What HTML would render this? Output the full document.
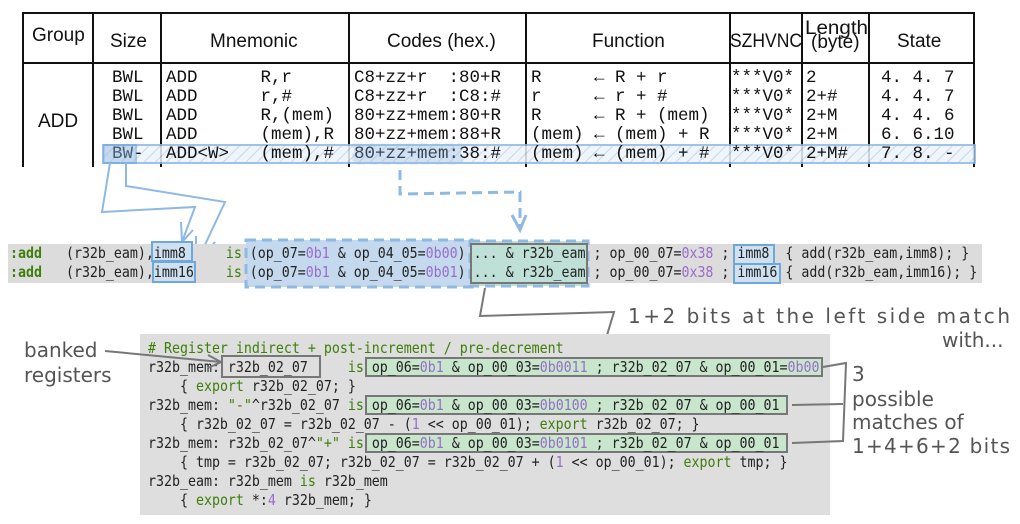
<!DOCTYPE html>
<html><head><meta charset="utf-8"><style>
html,body{margin:0;padding:0;background:#fff;}
svg{display:block;}
.h{font-family:"Liberation Sans",sans-serif;font-size:19px;fill:#111;}
.t{font-family:"Liberation Mono",monospace;font-size:17.5px;fill:#111;}
.c{font-family:"DejaVu Sans Mono",monospace;font-size:15px;fill:#222;}
.k{fill:#3d7f0a;}
.n{fill:#9a6cc9;}
.hw{font-family:"DejaVu Sans","Liberation Sans",sans-serif;font-size:20px;fill:#555;}
</style></head><body>
<svg width="1020" height="524" viewBox="0 0 1020 524" xmlns="http://www.w3.org/2000/svg">
<defs>
<pattern id="hat" width="8" height="8" patternUnits="userSpaceOnUse" patternTransform="rotate(45)">
<rect width="8" height="8" fill="#eef4fb"/><line x1="0" y1="0" x2="0" y2="8" stroke="#b8d2ec" stroke-width="2"/>
</pattern>
</defs>
<!-- table -->
<g stroke="#111" stroke-width="2" fill="none">
<line x1="22" y1="13" x2="975" y2="13"/>
<line x1="22" y1="63" x2="975" y2="63"/>
<line x1="23" y1="13" x2="23" y2="167"/>
<line x1="93" y1="13" x2="93" y2="167"/>
<line x1="161" y1="13" x2="161" y2="167"/>
<line x1="349" y1="13" x2="349" y2="167"/>
<line x1="526" y1="13" x2="526" y2="167"/>
<line x1="730" y1="13" x2="730" y2="167"/>
<line x1="802" y1="13" x2="802" y2="167"/>
<line x1="869" y1="13" x2="869" y2="167"/>
<line x1="974" y1="13" x2="974" y2="167"/>
</g>
<rect x="103" y="145" width="872" height="18" fill="url(#hat)" stroke="#8fb9e3" stroke-width="2" opacity="0.85"/>
<text class="h" x="32" y="41">Group</text>
<text class="h" x="110" y="47">Size</text>
<text class="h" x="210" y="47">Mnemonic</text>
<text class="h" x="387" y="47">Codes (hex.)</text>
<text class="h" x="592" y="47">Function</text>
<text class="h" x="730" y="47" textLength="72" lengthAdjust="spacingAndGlyphs">SZHVNC</text>
<text class="h" x="805" y="34" font-size="16" textLength="63" lengthAdjust="spacingAndGlyphs">Length</text>
<text class="h" x="811" y="48" font-size="16">(byte)</text>
<text class="h" x="897" y="47">State</text>
<text class="h" x="38" y="127">ADD</text>
<g class="t">
<text x="112" y="82">BWL</text><text x="112" y="101">BWL</text><text x="112" y="120">BWL</text><text x="112" y="139">BWL</text><text x="112" y="158">BW-</text>
<text x="166" y="82" xml:space="preserve">ADD      R,r</text>
<text x="166" y="101" xml:space="preserve">ADD      r,#</text>
<text x="166" y="120" xml:space="preserve">ADD      R,(mem)</text>
<text x="166" y="139" xml:space="preserve">ADD      (mem),R</text>
<text x="166" y="158" xml:space="preserve">ADD&lt;W&gt;   (mem),#</text>
<text x="354" y="82" xml:space="preserve">C8+zz+r  :80+R</text>
<text x="354" y="101" xml:space="preserve">C8+zz+r  :C8:#</text>
<text x="354" y="120" xml:space="preserve">80+zz+mem:80+R</text>
<text x="354" y="139" xml:space="preserve">80+zz+mem:88+R</text>
<text x="354" y="158" xml:space="preserve">80+zz+mem:38:#</text>
<text x="531" y="82" xml:space="preserve">R     ← R + r</text>
<text x="531" y="101" xml:space="preserve">r     ← r + #</text>
<text x="531" y="120" xml:space="preserve">R     ← R + (mem)</text>
<text x="531" y="139" xml:space="preserve">(mem) ← (mem) + R</text>
<text x="531" y="158" xml:space="preserve">(mem) ← (mem) + #</text>
<text x="731" y="82">***V0*</text><text x="731" y="101">***V0*</text><text x="731" y="120">***V0*</text><text x="731" y="139">***V0*</text><text x="731" y="158">***V0*</text>
<text x="806" y="82">2</text><text x="806" y="101">2+#</text><text x="806" y="120">2+M</text><text x="806" y="139">2+M</text><text x="806" y="158">2+M#</text>
<text x="881" y="82" xml:space="preserve">4. 4. 7</text>
<text x="881" y="101" xml:space="preserve">4. 4. 7</text>
<text x="881" y="120" xml:space="preserve">4. 4. 6</text>
<text x="881" y="139" xml:space="preserve">6. 6.10</text>
<text x="881" y="158" xml:space="preserve">7. 8. -</text>
</g>
<rect x="104" y="145" width="32" height="18" fill="#8fb9e3" opacity="0.45" stroke="#5e9bd6" stroke-width="2"/>
<rect x="354" y="145" width="107" height="18" fill="#8fb9e3" opacity="0.3" stroke="#8fb9e3" stroke-width="3" stroke-dasharray="8,5"/>
<!-- blue arrows -->
<g stroke="#8fb9e3" stroke-width="2" fill="none">
<polyline points="110,163 102,212 195,207 182,242"/>
<polyline points="181,222 182,242 193,230"/>
<polyline points="126,163 126,186 225,202 196,264"/>
<polyline points="196,236 196,264 215,242"/>
<polyline points="400,170 400,194 520,192 520,228" stroke-dasharray="10,6" stroke-width="3"/>
<polyline points="512,215 520,230 526,215" stroke-width="3"/>
</g>
<!-- middle band -->
<rect x="8" y="244" width="974" height="39" fill="#dcdcdc"/>
<rect x="246" y="240" width="226" height="47" fill="#c5d9ee" stroke="#8fb9e3" stroke-width="3" stroke-dasharray="10,6"/>
<rect x="470" y="241" width="118" height="45" fill="#bfe0d6" stroke="#8fb9e3" stroke-width="3" stroke-dasharray="10,6"/>
<rect x="471" y="244" width="116" height="39" fill="none" stroke="#777" stroke-width="2"/>
<rect x="152" y="242" width="40" height="19" fill="#cfe0f0" stroke="#6fa6dc" stroke-width="2"/>
<rect x="153" y="262" width="42" height="20" fill="#cfe0f0" stroke="#6fa6dc" stroke-width="2"/>
<rect x="734" y="245" width="40" height="19" fill="#cfe0f0" stroke="#6fa6dc" stroke-width="2"/>
<rect x="734" y="264" width="46" height="19" fill="#cfe0f0" stroke="#6fa6dc" stroke-width="2"/>
<g class="c" transform="translate(10,0) scale(0.886,1)">
<text x="0" y="258" xml:space="preserve"><tspan class="k" font-weight="bold">:add</tspan>   (r32b_eam),imm8     <tspan class="k">is</tspan> (op_07=<tspan class="n">0b1</tspan> &amp; op_04_05=<tspan class="n">0b00</tspan>) ... &amp; r32b_eam ; op_00_07=<tspan class="n">0x38</tspan> ; imm8  { add(r32b_eam,imm8); }</text>
<text x="0" y="277" xml:space="preserve"><tspan class="k" font-weight="bold">:add</tspan>   (r32b_eam),imm16    <tspan class="k">is</tspan> (op_07=<tspan class="n">0b1</tspan> &amp; op_04_05=<tspan class="n">0b01</tspan>) ... &amp; r32b_eam ; op_00_07=<tspan class="n">0x38</tspan> ; imm16 { add(r32b_eam,imm16); }</text>
</g>
<!-- gray connector -->
<g stroke="#777" stroke-width="2" fill="none">
<polyline points="485,288 480,316 614,312 601,355"/>
<polyline points="594,340 601,356 611,340"/>
</g>
<text class="hw" x="628" y="323" textLength="382">1+2 bits at the left side match</text>
<text class="hw" x="942" y="347">with...</text>
<!-- bottom box -->
<rect x="140" y="334" width="690" height="181" fill="#dedede"/>
<rect x="366" y="358" width="456" height="18" fill="#c8e6cc" stroke="#777" stroke-width="2"/>
<rect x="366" y="396" width="421" height="18" fill="#c8e6cc" stroke="#777" stroke-width="2"/>
<rect x="366" y="434" width="421" height="18" fill="#c8e6cc" stroke="#777" stroke-width="2"/>
<rect x="222" y="356" width="98" height="21" fill="none" stroke="#777" stroke-width="2"/>
<g class="c" transform="translate(148,0) scale(0.886,1)">
<text x="0" y="353" class="c k"># Register indirect + post-increment / pre-decrement</text>
<text x="0" y="372" xml:space="preserve">r32b_mem: r32b_02_07     <tspan class="k">is</tspan> op_06=<tspan class="n">0b1</tspan> &amp; op_00_03=<tspan class="n">0b0011</tspan> ; r32b_02_07 &amp; op_00_01=<tspan class="n">0b00</tspan></text>
<text x="0" y="391" xml:space="preserve">    { <tspan class="k">export</tspan> r32b_02_07; }</text>
<text x="0" y="410" xml:space="preserve">r32b_mem: <tspan class="k">"-"</tspan>^r32b_02_07 <tspan class="k">is</tspan> op_06=<tspan class="n">0b1</tspan> &amp; op_00_03=<tspan class="n">0b0100</tspan> ; r32b_02_07 &amp; op_00_01</text>
<text x="0" y="429" xml:space="preserve">    { r32b_02_07 = r32b_02_07 - (<tspan class="n">1</tspan> &lt;&lt; op_00_01); <tspan class="k">export</tspan> r32b_02_07; }</text>
<text x="0" y="448" xml:space="preserve">r32b_mem: r32b_02_07^<tspan class="k">"+"</tspan> <tspan class="k">is</tspan> op_06=<tspan class="n">0b1</tspan> &amp; op_00_03=<tspan class="n">0b0101</tspan> ; r32b_02_07 &amp; op_00_01</text>
<text x="0" y="467" xml:space="preserve">    { tmp = r32b_02_07; r32b_02_07 = r32b_02_07 + (<tspan class="n">1</tspan> &lt;&lt; op_00_01); <tspan class="k">export</tspan> tmp; }</text>
<text x="0" y="486" xml:space="preserve">r32b_eam: r32b_mem <tspan class="k">is</tspan> r32b_mem</text>
<text x="0" y="505" xml:space="preserve">    { <tspan class="k">export</tspan> *:<tspan class="n">4</tspan> r32b_mem; }</text>
</g>
<!-- annotations -->
<g stroke="#777" stroke-width="2" fill="none">
<polyline points="105,351 221,362"/>
<polyline points="208,355 221,362 208,368"/>
<polyline points="823,367 846,363 843,441 792,443"/>
<line x1="792" y1="405" x2="843" y2="404"/>
</g>
<text class="hw" x="24" y="357">banked</text>
<text class="hw" x="24" y="382">registers</text>
<text class="hw" x="852" y="381">3</text>
<text class="hw" x="852" y="406">possible</text>
<text class="hw" x="852" y="429">matches of</text>
<text class="hw" x="852" y="453" textLength="158">1+4+6+2 bits</text>
</svg>
</body></html>
